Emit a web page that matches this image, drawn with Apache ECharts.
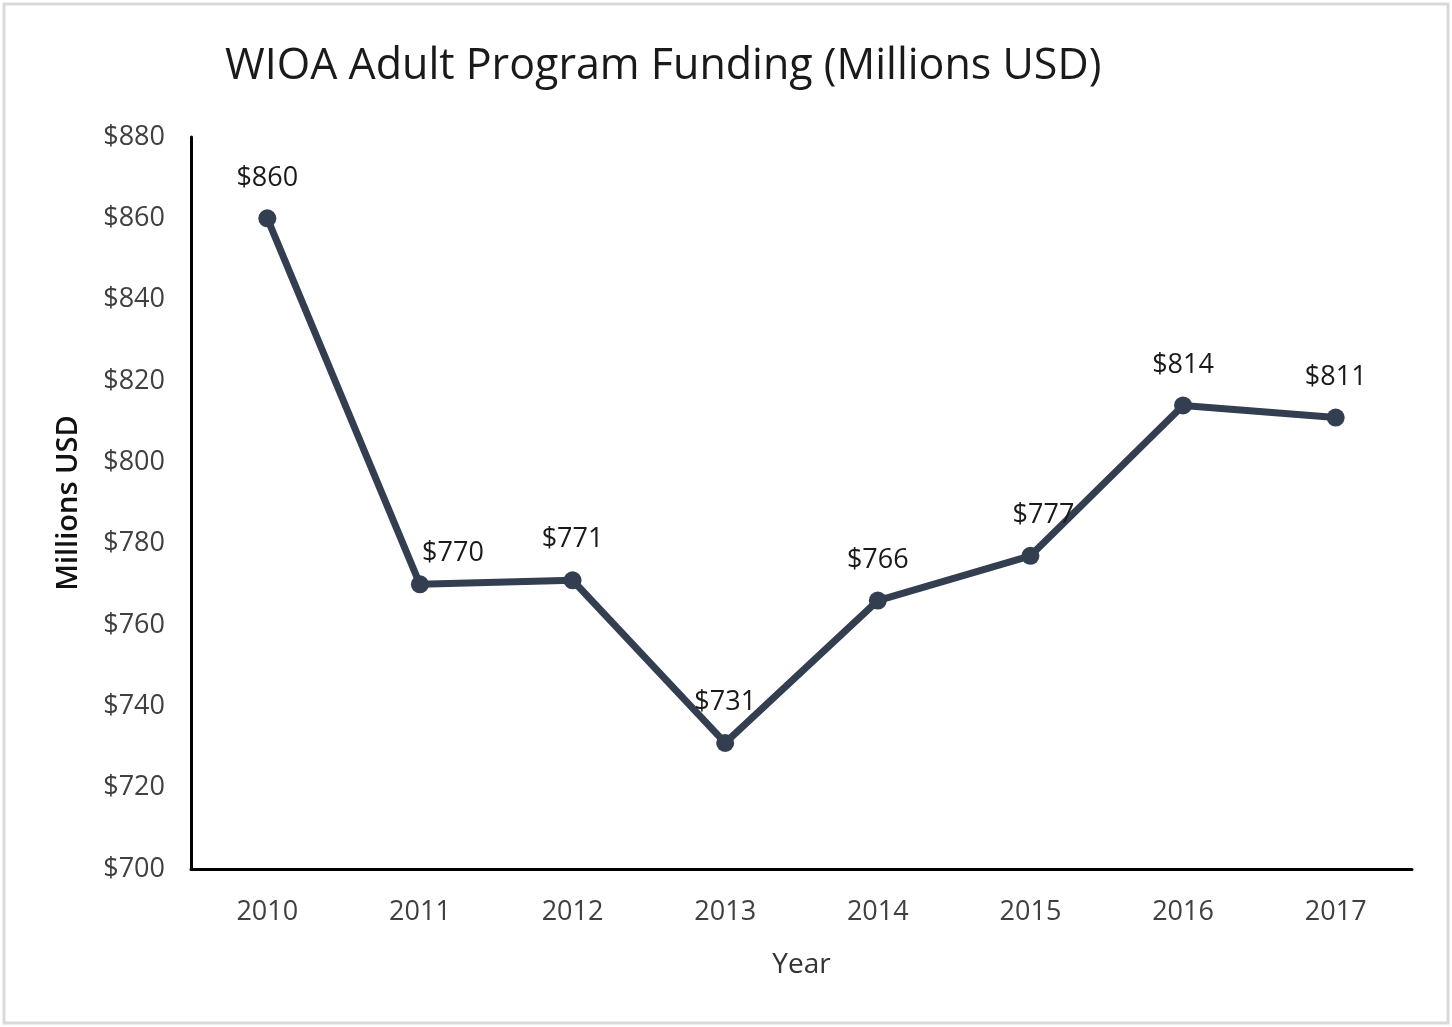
<!DOCTYPE html>
<html>
<head>
<meta charset="utf-8">
<script src="https://cdn.jsdelivr.net/npm/echarts@6/dist/echarts.min.js"></script>
<style>
  html, body { margin: 0; padding: 0; background: #fff; }
  #chart { width: 1452px; height: 1027px; }
</style>
</head>
<body>
<div id="chart"></div>
<script>
const years = ["2010", "2011", "2012", "2013", "2014", "2015", "2016", "2017"];
const funding = [860, 770, 771, 731, 766, 777, 814, 811];
const yMin = 700;
const yMax = 880;
const yStep = 20;

const fontName = "Open Sans";
const lineColor = "#333f50";

// a couple of labels sit off-centre in the original, nudge them
let labelNudge = { 1: [33, 9], 5: [13, 0] };

let points = funding.map(function (v, i) {
  let item = { value: v };
  if (labelNudge[i]) {
    item.label = { offset: labelNudge[i] };
  }
  return item;
});

let myChart = echarts.init(document.getElementById("chart"));

let option = {
  backgroundColor: "#fff",
  animation: false,
  textStyle: { fontFamily: fontName },
  graphic: [
    {
      type: "rect",
      shape: { x: 4, y: 4, width: 1444, height: 1019 },
      style: { fill: "none", stroke: "#d9d9d9", lineWidth: 3 },
    },
  ],
  title: {
    text: "WIOA Adult Program Funding (Millions USD)",
    left: 220,
    top: 40,
    textStyle: {
      fontFamily: fontName,
      fontSize: 43,
      fontWeight: "normal",
      color: "#1a1a1a",
    },
  },
  grid: {
    left: 191,
    right: 40,
    top: 137,
    bottom: 158,
  },
  xAxis: {
    type: "category",
    data: years,
    name: "Year",
    nameLocation: "middle",
    nameGap: 82,
    nameTextStyle: { fontSize: 28, color: "#333", fontFamily: fontName },
    axisLine: { lineStyle: { color: "#000", width: 3 } },
    axisTick: { show: false },
    axisLabel: { fontSize: 27, color: "#404040", margin: 30, fontFamily: fontName },
  },
  yAxis: {
    type: "value",
    min: yMin,
    max: yMax,
    interval: yStep,
    name: "Millions USD",
    nameLocation: "middle",
    nameGap: 108,
    nameRotate: 90,
    nameTextStyle: { fontSize: 29, fontWeight: 600, color: "#111", fontFamily: fontName },
    axisLine: { show: true, lineStyle: { color: "#000", width: 3 } },
    axisTick: { show: false },
    splitLine: { show: false },
    axisLabel: {
      fontSize: 27,
      color: "#404040",
      margin: 26,
      fontFamily: fontName,
      formatter: function (value) {
        return "$" + value;
      },
    },
  },
  series: [
    {
      type: "line",
      data: points,
      symbol: "circle",
      symbolSize: 18,
      lineStyle: { color: lineColor, width: 7 },
      itemStyle: { color: lineColor },
      label: {
        show: true,
        position: "top",
        distance: 18,
        fontSize: 27,
        color: "#1a1a1a",
        fontFamily: fontName,
        formatter: function (p) {
          return "$" + p.value;
        },
      },
    },
  ],
};

myChart.setOption(option);
</script>
</body>
</html>
